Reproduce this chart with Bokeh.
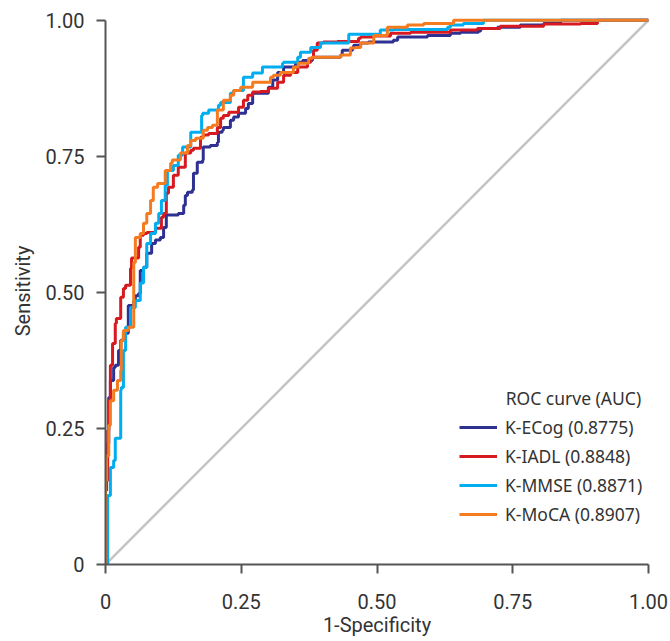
from bokeh.plotting import figure
from bokeh.models import Range1d, FixedTicker, Label
from bokeh.embed import file_html
from bokeh.resources import INLINE

# ROC coordinates (1-Specificity, Sensitivity)
ecog_fpr = [0, 0.006, 0.009, 0.015, 0.018, 0.024, 0.028, 0.033, 0.042, 0.052, 0.055, 0.061, 0.064, 0.070,
            0.076, 0.085, 0.092, 0.101, 0.107, 0.112, 0.134, 0.144, 0.147, 0.151, 0.160, 0.162, 0.169, 0.179,
            0.180, 0.193, 0.206, 0.208, 0.215, 0.217, 0.230, 0.236, 0.245, 0.258, 0.263, 0.271, 0.291, 0.300,
            0.308, 0.317, 0.328, 0.341, 0.350, 0.355, 0.363, 0.381, 0.401, 0.433, 0.436, 0.455, 0.457, 0.470,
            0.484, 0.530, 0.538, 0.575, 0.593, 0.635, 0.654, 0.687, 0.691, 0.722, 0.764, 0.807, 0.838, 0.838, 1.0]
ecog_tpr = [0, 0.222, 0.307, 0.338, 0.362, 0.366, 0.393, 0.412, 0.425, 0.476, 0.485, 0.494, 0.498, 0.540,
            0.546, 0.572, 0.590, 0.596, 0.601, 0.619, 0.642, 0.645, 0.660, 0.678, 0.684, 0.688, 0.719, 0.739,
            0.743, 0.767, 0.770, 0.776, 0.794, 0.798, 0.803, 0.816, 0.822, 0.829, 0.838, 0.847, 0.866, 0.866,
            0.877, 0.890, 0.904, 0.914, 0.914, 0.921, 0.923, 0.926, 0.932, 0.932, 0.936, 0.945, 0.949, 0.954,
            0.958, 0.960, 0.963, 0.969, 0.969, 0.972, 0.976, 0.978, 0.980, 0.985, 0.987, 0.991, 0.994, 1.0, 1.0]

iadl_fpr = [0, 0.002, 0.004, 0.006, 0.009, 0.013, 0.018, 0.020, 0.028, 0.033, 0.037, 0.046, 0.048, 0.061,
            0.064, 0.070, 0.076, 0.092, 0.103, 0.107, 0.112, 0.116, 0.125, 0.134, 0.147, 0.157, 0.162, 0.175,
            0.180, 0.190, 0.206, 0.212, 0.217, 0.227, 0.245, 0.254, 0.262, 0.271, 0.285, 0.300, 0.317, 0.328,
            0.341, 0.354, 0.355, 0.372, 0.378, 0.383, 0.390, 0.401, 0.427, 0.466, 0.470, 0.494, 0.525, 0.562,
            0.635, 0.685, 0.727, 0.807, 0.875, 0.906, 0.906, 1.0]
iadl_tpr = [0, 0.136, 0.154, 0.246, 0.301, 0.366, 0.406, 0.443, 0.452, 0.491, 0.507, 0.513, 0.544, 0.563,
            0.583, 0.605, 0.608, 0.610, 0.618, 0.638, 0.645, 0.682, 0.693, 0.715, 0.730, 0.756, 0.761, 0.765,
            0.785, 0.789, 0.792, 0.803, 0.820, 0.825, 0.831, 0.840, 0.853, 0.862, 0.868, 0.869, 0.875, 0.886,
            0.899, 0.904, 0.914, 0.914, 0.923, 0.930, 0.945, 0.958, 0.960, 0.961, 0.967, 0.969, 0.971, 0.976,
            0.978, 0.982, 0.985, 0.989, 0.993, 0.994, 1.0, 1.0]

mmse_fpr = [0, 0.004, 0.009, 0.015, 0.018, 0.028, 0.029, 0.033, 0.037, 0.046, 0.055, 0.064, 0.070, 0.076,
            0.083, 0.092, 0.098, 0.103, 0.110, 0.114, 0.125, 0.134, 0.142, 0.157, 0.162, 0.177, 0.179, 0.190,
            0.208, 0.212, 0.230, 0.236, 0.254, 0.271, 0.289, 0.326, 0.328, 0.354, 0.359, 0.378, 0.396, 0.427,
            0.448, 0.455, 0.506, 0.530, 0.630, 0.635, 0.659, 0.696, 0.733, 1.0]
mmse_tpr = [0, 0, 0.127, 0.178, 0.191, 0.232, 0.320, 0.325, 0.393, 0.436, 0.472, 0.485, 0.517, 0.546,
            0.590, 0.608, 0.627, 0.645, 0.669, 0.697, 0.724, 0.733, 0.752, 0.767, 0.794, 0.794, 0.825, 0.829,
            0.835, 0.844, 0.849, 0.866, 0.871, 0.895, 0.903, 0.914, 0.921, 0.923, 0.932, 0.941, 0.950, 0.958,
            0.958, 0.974, 0.974, 0.982, 0.983, 0.987, 0.991, 0.994, 1.0, 1.0]

moca_fpr = [0, 0.002, 0.006, 0.009, 0.015, 0.022, 0.028, 0.029, 0.033, 0.042, 0.052, 0.055, 0.064, 0.070,
            0.076, 0.083, 0.088, 0.096, 0.110, 0.120, 0.123, 0.138, 0.151, 0.157, 0.166, 0.180, 0.188, 0.197,
            0.206, 0.217, 0.230, 0.236, 0.249, 0.271, 0.304, 0.309, 0.322, 0.346, 0.355, 0.374, 0.381, 0.390,
            0.433, 0.451, 0.460, 0.470, 0.494, 0.519, 0.556, 0.586, 0.641, 0.654, 1.0]
moca_tpr = [0, 0.154, 0.200, 0.256, 0.301, 0.320, 0.338, 0.357, 0.412, 0.430, 0.436, 0.555, 0.601, 0.608,
            0.627, 0.645, 0.669, 0.693, 0.700, 0.724, 0.737, 0.743, 0.756, 0.770, 0.779, 0.783, 0.798, 0.803,
            0.807, 0.835, 0.853, 0.862, 0.871, 0.877, 0.886, 0.895, 0.899, 0.904, 0.914, 0.921, 0.930, 0.932,
            0.932, 0.936, 0.949, 0.950, 0.958, 0.972, 0.987, 0.991, 0.994, 1.0, 1.0]

diag_x = [0, 1]
diag_y = [0, 1]

series_names = ["K-ECog (0.8775)", "K-IADL (0.8848)", "K-MMSE (0.8871)", "K-MoCA (0.8907)"]
series_colors = ["#2E3192", "#D71920", "#00AEEF", "#F47B20"]
tick_values = [0, 0.25, 0.5, 0.75, 1.0]
tick_labels = ["0", "0.25", "0.50", "0.75", "1.00"]

TEXT = "#333333"
AXIS = "#555555"

p = figure(width=670, height=641, output_backend="svg", toolbar_location=None,
           x_range=Range1d(0, 1), y_range=Range1d(0, 1.005),
           min_border_left=105, min_border_right=22, min_border_top=17, min_border_bottom=77)
p.outline_line_color = None
p.grid.visible = False
p.background_fill_color = "white"

p.line(diag_x, diag_y, line_color="#C4C4C4", line_width=2.5)

data = [(ecog_fpr, ecog_tpr), (iadl_fpr, iadl_tpr), (mmse_fpr, mmse_tpr), (moca_fpr, moca_tpr)]
for (fx, ty), name, col in zip(data, series_names, series_colors):
    p.step(fx, ty, mode="before", line_color=col, line_width=3, legend_label=name)

overrides = {v: s for v, s in zip(tick_values, tick_labels)}
for ax in (p.xaxis[0], p.yaxis[0]):
    ax.ticker = FixedTicker(ticks=tick_values)
    ax.major_label_overrides = overrides
    ax.bounds = (0, 1)
    ax.minor_tick_line_color = None
    ax.axis_line_color = AXIS
    ax.axis_line_width = 2
    ax.major_tick_line_color = AXIS
    ax.major_tick_line_width = 2
    ax.major_tick_in = 0
    ax.major_tick_out = 9
    ax.major_label_text_font = "Roboto"
    ax.major_label_text_font_size = "20px"
    ax.major_label_text_color = TEXT
    ax.axis_label_text_font = "Roboto"
    ax.axis_label_text_font_size = "20px"
    ax.axis_label_text_font_style = "normal"
    ax.axis_label_text_color = TEXT

p.xaxis.axis_label = "1-Specificity"
p.yaxis.axis_label = "Sensitivity"
p.xaxis.major_label_standoff = 20
p.xaxis.axis_label_standoff = 1
p.yaxis.major_label_standoff = 12
p.yaxis.axis_label_standoff = 8

lg = p.legend[0]
lg.location = (354, 38)
lg.padding = 0
lg.margin = 0
lg.spacing = 5
lg.glyph_width = 38
lg.glyph_height = 24
lg.label_height = 24
lg.label_standoff = 8
lg.label_text_font = "Noto Sans"
lg.label_text_font_size = "17.5px"
lg.label_text_color = TEXT
lg.border_line_color = None
lg.background_fill_alpha = 0

title = Label(x=0.737, y=0.305, text="ROC curve (AUC)", text_font="Noto Sans",
              text_font_size="17.5px", text_color=TEXT, text_baseline="middle", text_align="left")
p.add_layout(title)

open("out.html", "w").write(file_html(p, INLINE))
